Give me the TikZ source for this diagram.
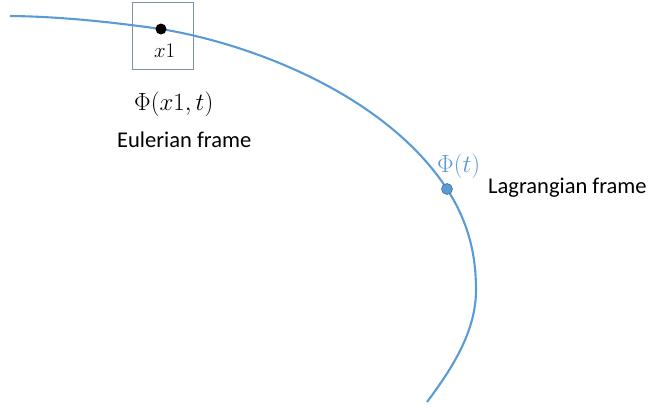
\documentclass[tikz,border=0pt]{standalone}
\usepackage{fontspec}
\setmainfont{Carlito}
\begin{document}
\begin{tikzpicture}[x=1pt,y=-1pt,
  curve/.style={draw=accent,line width=2.1pt},
  lbl/.style={font=\fontsize{22.5}{27}\selectfont,inner sep=0pt,anchor=base west},
  mlbl/.style={font=\fontsize{22}{26}\selectfont,inner sep=0pt,anchor=base west}]
\definecolor{accent}{RGB}{91,155,213}
\definecolor{accentdark}{RGB}{65,113,156}
\definecolor{boxline}{RGB}{127,145,165}
\useasboundingbox (0,0) rectangle (649,408);
\coordinate (start) at (10,16);
\coordinate (eul) at (161,29);
\coordinate (lagpt) at (447,189);
\coordinate (apex) at (476,290);
\coordinate (finish) at (427,402);
\node[draw=boxline,line width=0.8pt,minimum width=61pt,minimum height=67pt,inner sep=0pt] (box) at (162.5,35.5) {};
\draw[curve] (start) .. controls (60,16.5) and (111,22) .. (eul)
  .. controls (257,45) and (387,97) .. (lagpt)
  .. controls (468.7,222.6) and (476,255) .. (apex)
  .. controls (476,330) and (454,366) .. (finish);
\fill (eul) circle (5.5pt);
\node[mlbl] (x1) at (154,57) {$x1$};
\node[mlbl,font=\fontsize{24}{28}\selectfont] (phix) at (134,110) {$\Phi(x1,t)$};
\node[lbl] (eulerian) at (117,147) {Eulerian frame};
\node[circle,fill=accent,draw=accentdark,line width=0.6pt,minimum size=11pt,inner sep=0pt] (lag) at (lagpt) {};
\node[mlbl,text=accent,font=\fontsize{23}{27}\selectfont] (phit) at (437,172) {$\Phi(t)$};
\node[lbl] (lagrangian) at (488,193) {Lagrangian frame};
\end{tikzpicture}
\end{document}
